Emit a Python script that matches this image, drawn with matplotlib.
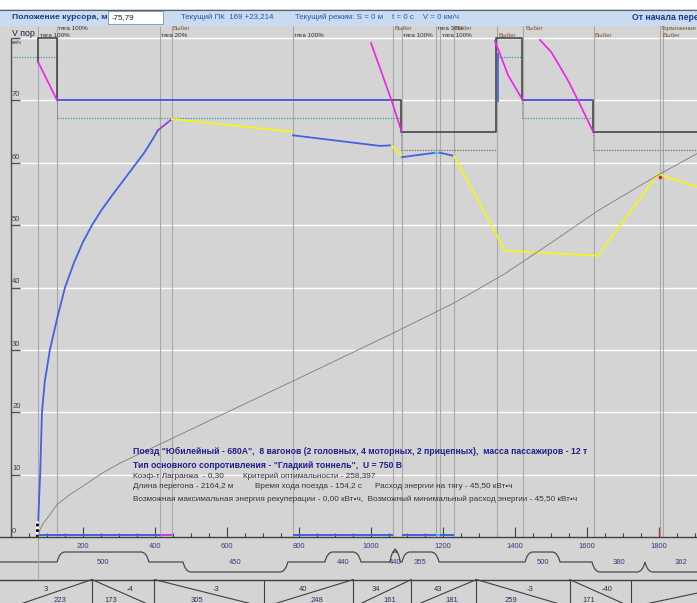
import numpy as np
import matplotlib.pyplot as plt
from matplotlib.patches import Rectangle, PathPatch
from matplotlib.path import Path

plt.rcParams['font.family'] = ['Liberation Sans', 'DejaVu Sans']

W, H = 697, 603
PX_M = 0.36          # пикселей на метр
PX_V = 6.2375        # пикселей на км/ч
X0 = -11 / PX_M
X1 = (W - 11) / PX_M
VTOP = (537 - 26) / PX_V

# ---------------- данные ----------------
# ограничение скорости (черная ступенчатая линия)
lim_s = [75, 128, 1083, 1347, 1419, 1617, 1906]
lim_v = [80, 70, 65, 80, 70, 65]

# синие участки ограничения
blim_s = [[128, 1056], [1419, 1617]]
blim_v = [70, 70]

# пунктирные уровни (с, по, скорость, цвет)
dot_from = [0, 128, 1083, 1353, 1419, 1617]
dot_to = [128, 1083, 1347, 1419, 1617, 1906]
dot_v = [77, 67.2, 62, 77, 67.2, 62]
dot_col = ['#2aa0a0', '#2aa0a0', '#707070', '#2aa0a0', '#2aa0a0', '#707070']

# кривые торможения (пурпурные)
brk1_s = [75, 128]
brk1_v = [76.2, 70]
brk2_s = [1000, 1057, 1085]
brk2_v = [79.2, 70, 65]
brk3_s = [1344, 1358, 1381, 1422]
brk3_v = [79.5, 77.5, 74, 70]
brk4_s = [1469, 1500, 1525, 1550, 1575, 1617]
brk4_v = [79.7, 77.8, 75.4, 72.9, 70, 65]

# кривая скорости по участкам
acc_s = [75, 76, 78, 81, 86, 94, 108, 128, 150, 175, 200, 225, 250, 280, 310, 340, 370, 395, 408]
acc_v = [0, 3, 6, 10, 20, 25, 30, 35, 40, 44, 47.3, 50, 52.3, 54.7, 57, 59.3, 61.6, 63.9, 65.2]
t20_s = [408, 447]
t20_v = [65.2, 67.0]
cst1_s = [447, 781]
cst1_v = [67.0, 65.0]
trc2_s = [783, 1025, 1058]
trc2_v = [64.4, 62.7, 62.8]
cst2_s = [1058, 1086]
cst2_v = [62.8, 60.9]
trc3_s = [1086, 1178]
trc3_v = [60.9, 61.6]
t30_s = [1178, 1192]
t30_v = [61.6, 61.6]
trc4_s = [1192, 1231]
trc4_v = [61.6, 61.1]
cst3_s = [1231, 1372, 1631, 1797, 1906]
cst3_v = [61.1, 45.9, 45.1, 58.2, 56.1]

# время хода (серая кривая), с
time_s = [75, 77, 81, 90, 100, 128, 160, 200, 250, 303, 447, 600, 781, 1058, 1231, 1372, 1500, 1631, 1797, 1906]
time_t = [0, 1, 2.5, 4.5, 6, 10.5, 13.5, 16.5, 20.5, 24, 32, 40.5, 50.5, 66, 76, 85.5, 95.5, 106, 117.5, 124.5]

# границы режимов
mode_s = [75, 128, 414, 447, 783, 1061, 1086, 1181, 1192, 1231, 1350, 1422, 1619, 1803, 1811]

# подписи режимов (x, ряд, текст)
lab_s = [81, 131, 417, 450, 786, 1064, 1089, 1183, 1233, 1197, 1353, 1428, 1622, 1806, 1811]
lab_row = [0, 1, 0, 1, 0, 1, 0, 1, 1, 0, 0, 1, 0, 1, 0]
lab_txt = ['тяга 100%', 'тяга 100%', 'тяга 20%', 'Выбег', 'тяга 100%', 'Выбег', 'тяга 100%',
           'тяга 30%', 'Выбег', 'тяга 100%', 'Выбег', 'Выбег', 'Выбег', 'Торможение', 'Выбег']

# полоса режима внизу
bar_from = [75, 414, 783, 1086, 1181, 1192]
bar_to = [414, 447, 1061, 1181, 1192, 1231]
bar_col = ['#4060e0', '#c040e0', '#4060e0', '#4060e0', '#30c8e0', '#4060e0']

# кривые в плане: начало, конец, направление, радиус
crv_a = [128, 478, 872, 1053, 1086, 1428, 1614, 1761]
crv_b = [383, 769, 972, 1081, 1189, 1525, 1761, 1960]
crv_d = [1, -1, 1, 1, 1, 1, -1, -1]
crv_r = [500, 450, 440, 440, 355, 500, 380, 362]

# профиль: уклоны, промилле и длины, м
grad_start = 2
grad_val = [3, -4, -3, 40, 34, 43, -3, -40, None]
grad_len = [223, 173, 305, 248, 161, 181, 259, 171, 361]

BG = '#d4d4d4'
BLUE = '#4262e2'
YEL = '#f2f22a'
MAG = '#f020e8'


def fbox(x0, y0, x1, y1):
    return [x0 / W, 1 - y1 / H, (x1 - x0) / W, (y1 - y0) / H]


def ftext(px, py, s, **kw):
    return fig.text(px / W, 1 - py / H, s, va='center', **kw)


fig = plt.figure(figsize=(W / 100, H / 100), dpi=100, facecolor=BG)

# ---------- шапка ----------
fig.add_artist(Rectangle((0, 1 - 9 / H), 1, 9 / H, transform=fig.transFigure,
                         facecolor='white', edgecolor='none'))
fig.add_artist(Rectangle((0, 1 - 26 / H), 1, 17 / H, transform=fig.transFigure,
                         facecolor='#c9dbf1', edgecolor='none'))
fig.add_artist(plt.Line2D([0, 1], [1 - 9.5 / H, 1 - 9.5 / H], transform=fig.transFigure,
                          color='#606060', lw=0.8))
fig.add_artist(Rectangle((108 / W, 1 - 24 / H), 55 / W, 13 / H, transform=fig.transFigure,
                         facecolor='white', edgecolor='#8090a8', lw=0.6))
ftext(12, 17.5, 'Положение курсора, м', fontsize=6.1, fontweight='bold', color='#1c3a8c')
ftext(112, 17.5, '-75,79', fontsize=5.8, color='#202020')
ftext(181, 17.5, 'Текущий ПК  169 +23,214', fontsize=5.7, color='#2a56b0')
ftext(295, 17.5, 'Текущий режим: S = 0 м    t = 0 с    V = 0 км/ч', fontsize=5.7, color='#2a56b0')
ftext(632, 17.5, 'От начала перегона', fontsize=6.3, fontweight='bold', color='#1c3a8c')

# ---------- профиль (кривые) ----------
axp = fig.add_axes(fbox(0, 537, 697, 579))
axp.set_xlim(X0, X1)
axp.set_ylim(-1.7, 2.5)
axp.axis('off')
verts = [(X0, 0)]
codes = [Path.MOVETO]
for a, b, d in zip(crv_a, crv_b, crv_d):
    r = min(22, (b - a) / 2.5)
    verts += [(a, 0), (a + 0.3 * r, d), (a + r, d), (b - r, d), (b - 0.3 * r, d), (b, 0)]
    codes += [Path.LINETO, Path.CURVE3, Path.CURVE3, Path.LINETO, Path.CURVE3, Path.CURVE3]
verts.append((X1, 0))
codes.append(Path.LINETO)
axp.add_patch(PathPatch(Path(verts, codes), facecolor='none', edgecolor='#4a4a4a', lw=0.9))
for a, b, r in zip(crv_a, crv_b, crv_r):
    axp.text((a + b) / 2, -0.1, str(r), fontsize=5.5, color='#3c3c80', ha='center', va='center')
axp.plot([1067 - 6, 1067, 1067 + 6], [1.0, 1.3, 1.0], color='#202020', lw=0.7)
axp.vlines(75, -1.7, 2.5, color='#a8a8a8', lw=0.8)

# ---------- уклоны ----------
axt = fig.add_axes(fbox(0, 579, 697, 607))
axt.set_xlim(X0, X1)
axt.set_ylim(0, 1.02)
axt.axis('off')
axt.axhline(1, color='#404040', lw=1)
edges = np.cumsum([grad_start] + grad_len)
for i, (val, ln) in enumerate(zip(grad_val, grad_len)):
    a, b = edges[i], edges[i + 1]
    if val is None or val >= 0:
        axt.plot([a, b], [0, 1], color='#404040', lw=0.8)
        dv, dl = -6, 8
    else:
        axt.plot([a, b], [1, 0], color='#404040', lw=0.8)
        dv, dl = 7, -12
    if i > 0:
        axt.vlines(a, 0, 1, color='#404040', lw=0.8)
    if val is not None:
        c = (a + b) / 2
        axt.text(c + dv / PX_M, 0.64, str(val), fontsize=5.5, color='#303050', ha='center', va='center')
        axt.text(c + dl / PX_M, 0.22, str(ln), fontsize=5.5, color='#303060', ha='center', va='center')

# ---------- основной график ----------
ax = fig.add_axes(fbox(0, 26, 697, 537))
ax.set_facecolor(BG)
ax.set_xlim(X0, X1)
ax.set_ylim(0, VTOP)
for sp in ['top', 'left', 'right']:
    ax.spines[sp].set_visible(False)
ax.spines['bottom'].set_color('#404040')
ax.spines['bottom'].set_linewidth(1.0)
ax.set_yticks([])
ax.set_xticks(range(200, 1801, 200))
ax.set_xticks(range(50, 1901, 50), minor=True)
ax.tick_params(axis='x', which='major', direction='in', length=7, width=0.8, color='#404040',
               labelsize=5.5, labelcolor='#3c3c80', pad=4)
ax.tick_params(axis='x', which='minor', direction='in', length=3, width=0.8, color='#404040')

for v in range(10, 81, 10):
    ax.hlines(v, 0, X1, color='white', lw=1)
    ax.hlines(v, 0, 25, color='#505050', lw=1)
for v in range(0, 80, 10):
    ax.text(3, v + 0.35, str(v), fontsize=5.5, color='#3a3a5a', va='bottom')
ax.vlines(0, 0, 80, color='#505050', lw=1)

ax.vlines(mode_s, 0, VTOP, color='#a8a8a8', lw=0.8)

ax.text(3, 80.8, 'V пор', fontsize=6.3, color='#202040', va='center')
ax.text(3, 79.3, 'км/ч', fontsize=3.6, color='#202040', va='center')
for s, row, t in zip(lab_s, lab_row, lab_txt):
    col = '#303030' if t.startswith('тяга') else '#7a5530'
    ax.text(s, 80.35 if row == 0 else 81.45, t, fontsize=4.5, color=col, va='center')

# пунктирные уровни
for a, b, v, c in zip(dot_from, dot_to, dot_v, dot_col):
    ax.hlines(v, a, b, color=c, lw=0.8, linestyles=(0, (1.2, 1.2)))
ax.vlines([128, 1083, 1419, 1617], [67.2, 62, 67.2, 62], [70, 65, 70, 65],
          color='#707070', lw=0.7, linestyles=(0, (1, 1.5)))

# время хода
ax2 = ax.twinx()
ax2.set_ylim(0, (537 - 26) / 3.08)
ax2.axis('off')
ax2.plot(time_s, time_t, color='#7c7c7c', lw=0.6)

# ограничение скорости
ax.step(lim_s, lim_v + [lim_v[-1]], where='post', color='#3c3c3c', lw=1.1)
ax.vlines(75, 76, 80, color='#3c3c3c', lw=1.1)
for (a, b), v in zip(blim_s, blim_v):
    ax.hlines(v, a, b, color='#5a5ae8', lw=1.3)
ax.vlines(1353, 69.7, 77.6, color=BLUE, lw=1.2)

# торможение
for s, v in [(brk1_s, brk1_v), (brk2_s, brk2_v), (brk3_s, brk3_v), (brk4_s, brk4_v)]:
    ax.plot(s, v, color=MAG, lw=1.2)

# скорость
ax.plot(acc_s, acc_v, color=BLUE, lw=1.3)
ax.plot(t20_s, t20_v, color='#9a40e0', lw=1.3)
ax.plot(cst1_s, cst1_v, color=YEL, lw=1.4)
ax.plot(trc2_s, trc2_v, color=BLUE, lw=1.3)
ax.plot(cst2_s, cst2_v, color=YEL, lw=1.4)
ax.plot(trc3_s, trc3_v, color=BLUE, lw=1.3)
ax.plot(t30_s, t30_v, color='#30c8e0', lw=1.3)
ax.plot(trc4_s, trc4_v, color=BLUE, lw=1.3)
ax.plot(cst3_s, cst3_v, color=YEL, lw=1.4)
ax.plot([1803], [57.7], marker='s', ms=2, color='#d03020')
ax.plot([1800], [0.7], marker='|', ms=4, color='#d03020')

# полоса режимов
for a, b, c in zip(bar_from, bar_to, bar_col):
    ax.hlines(0.35, a, b, color=c, lw=1.4)

# курсор
ax.vlines(71, 0, 2.6, color='white', lw=2)
ax.vlines(71, 0, 2.6, color='black', lw=2, linestyles=(0, (1, 1)))

# сводка
NAVY = '#1e1e8a'
DARK = '#333340'
ftext(133, 451, 'Поезд "Юбилейный - 680А",  8 вагонов (2 головных, 4 моторных, 2 прицепных),  масса пассажиров - 12 т',
      fontsize=6.2, fontweight='bold', color=NAVY)
ftext(133, 466, 'Тип основного сопротивления - "Гладкий тоннель",  U = 750 В',
      fontsize=6.2, fontweight='bold', color=NAVY)
ftext(133, 476, 'Коэф-т Лагранжа  - 0,30', fontsize=5.85, color=DARK)
ftext(243, 476, 'Критерий оптимальности - 258,397', fontsize=5.85, color=DARK)
ftext(133, 486, 'Длина перегона - 2164,2 м', fontsize=5.85, color=DARK)
ftext(255, 486, 'Время хода поезда - 154,2 с', fontsize=5.85, color=DARK)
ftext(375, 486, 'Расход энергии на тягу - 45,50 кВт•ч', fontsize=5.85, color=DARK)
ftext(133, 499, 'Возможная максимальная энергия рекуперации - 0,00 кВт•ч,  '
      'Возможный минимальный расход энергии - 45,50 кВт•ч', fontsize=5.85, color=DARK)

fig.savefig('out.png', dpi=100, facecolor=BG)
